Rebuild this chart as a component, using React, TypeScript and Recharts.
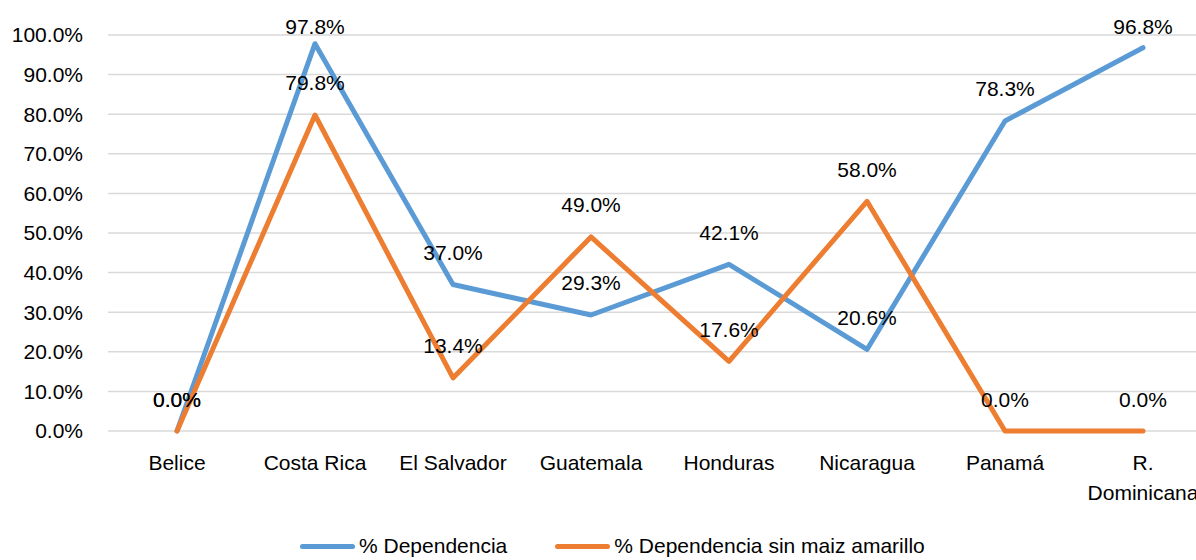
import { LineChart, Line, XAxis, YAxis, CartesianGrid } from "recharts"

const countries = ["Belice", "Costa Rica", "El Salvador", "Guatemala", "Honduras", "Nicaragua", "Panamá", "R. Dominicana"]
const dependencia = [0.0, 97.8, 37.0, 29.3, 42.1, 20.6, 78.3, 96.8]
const sinMaiz = [0.0, 79.8, 13.4, 49.0, 17.6, 58.0, 0.0, 0.0]
const yTicks = [0, 10, 20, 30, 40, 50, 60, 70, 80, 90, 100]

const series = [
  { key: "dependencia", name: "% Dependencia", color: "#5B9BD5" },
  { key: "sinMaiz", name: "% Dependencia sin maiz amarillo", color: "#ED7D31" },
]

const data = countries.map((c, i) => ({ country: c, dependencia: dependencia[i], sinMaiz: sinMaiz[i] }))

const font = "'Liberation Sans', Arial, sans-serif"
const fontSize = 21

const pct = (v: number) => v.toFixed(1) + "%"

// long names don't fit the category slot, break them at the first space
function wrapLabel(s: string) {
  if (s.length <= 12) return [s]
  const i = s.indexOf(" ")
  return i < 0 ? [s] : [s.slice(0, i), s.slice(i + 1)]
}

function XTick(props: any) {
  const { x, y, payload } = props
  const lines = wrapLabel(String(payload.value))
  return (
    <text x={x} y={y} textAnchor="middle" fill="#000" style={{ fontFamily: font, fontSize }}>
      {lines.map((l, i) => (
        <tspan key={i} x={x} dy={i === 0 ? 15 : 30}>
          {l}
        </tspan>
      ))}
    </text>
  )
}

function ValueLabel(props: any) {
  const { x, y, value } = props
  if (value == null) return null
  return (
    <text
      x={x}
      y={Math.max(y - 32, 26)}
      textAnchor="middle"
      dominantBaseline="central"
      fill="#000"
      style={{ fontFamily: font, fontSize }}
    >
      {pct(value)}
    </text>
  )
}

export default function App() {
  return (
    <div style={{ position: "absolute", left: 0, top: 0, width: 1196, height: 560, overflow: "hidden", background: "#fff" }}>
      <LineChart width={1230} height={560} data={data} margin={{ top: 35, right: 18, bottom: 49, left: 0 }}>
        <CartesianGrid vertical={false} stroke="#d9d9d9" strokeWidth={1.5} />
        <XAxis
          dataKey="country"
          axisLine={false}
          tickLine={false}
          tickSize={0}
          tickMargin={24}
          height={80}
          interval={0}
          padding={{ left: 69, right: 69 }}
          tick={<XTick />}
        />
        <YAxis
          width={108}
          domain={[0, 100]}
          ticks={yTicks}
          axisLine={false}
          tickLine={false}
          tickSize={0}
          tickMargin={25}
          tickFormatter={pct}
          tick={{ fill: "#000", fontFamily: font, fontSize }}
        />
        {series.map((s) => (
          <Line
            key={s.key}
            type="linear"
            dataKey={s.key}
            name={s.name}
            stroke={s.color}
            strokeWidth={5}
            strokeLinecap="round"
            strokeLinejoin="round"
            dot={false}
            activeDot={false}
            isAnimationActive={false}
          />
        ))}
        {series.map((s) => (
          <Line
            key={s.key + "-labels"}
            type="linear"
            dataKey={s.key}
            stroke="none"
            dot={false}
            activeDot={false}
            legendType="none"
            isAnimationActive={false}
            label={<ValueLabel />}
          />
        ))}
      </LineChart>
      <div style={{ position: "absolute", top: 534, left: 300, display: "flex", alignItems: "center", fontFamily: font, fontSize, color: "#000" }}>
        {series.map((s, i) => (
          <div key={s.key} style={{ display: "flex", alignItems: "center", marginLeft: i === 0 ? 0 : 48 }}>
            <div style={{ width: 55, height: 5, borderRadius: 3, background: s.color, marginRight: 4 }} />
            <span>{s.name}</span>
          </div>
        ))}
      </div>
    </div>
  )
}
